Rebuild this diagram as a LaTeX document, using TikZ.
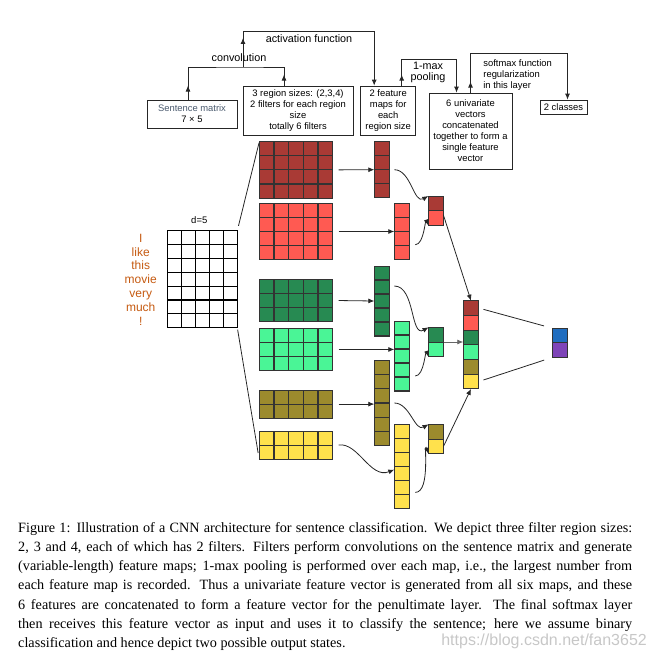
\documentclass[tikz,border=0pt]{standalone}
\usepackage{fontspec}
\setmainfont{Liberation Serif}
\setsansfont{Liberation Sans}
\usepackage{tikz}
\usetikzlibrary{arrows.meta,positioning,calc}
\definecolor{CnnRedDark}{HTML}{A93A35}
\definecolor{CnnRedLight}{HTML}{FF5A52}
\definecolor{CnnGreenDark}{HTML}{278A52}
\definecolor{CnnGreenLight}{HTML}{4AF596}
\definecolor{CnnOlive}{HTML}{9C8B2D}
\definecolor{CnnYellow}{HTML}{FFE14C}
\definecolor{CnnBlue}{HTML}{1F6DBF}
\definecolor{CnnPurple}{HTML}{7E44B8}
\definecolor{CnnSlate}{HTML}{4A5A6E}
\definecolor{CnnWord}{HTML}{C55A11}
\tikzset{
  infobox/.style={draw=black!85,line width=0.8pt,align=center,inner sep=0pt,
    font=\sffamily\fontsize{9.4}{11}\selectfont},
  lbl/.style={inner sep=0pt,align=center,font=\sffamily\fontsize{10.8}{11.5}\selectfont},
  wire/.style={line width=0.8pt,draw=black!85},
  flow/.style={wire,-{Latex[length=6pt,width=5pt]}},
  feed/.style={flow,shorten <=6pt},
  vcell/.style={draw=black!80,line width=0.9pt,inner sep=0pt,outer sep=0pt,
    minimum width=15pt,minimum height=14.7pt},
  cellblock/.style n args={4}{draw=black!80,line width=0.9pt,inner sep=0pt,outer sep=0pt,
    anchor=north west,minimum width=#1*#3,minimum height=#2*#4,
    path picture={
      \foreach \k in {1,...,#1}
        \draw[line width=1.1pt] ($(path picture bounding box.north west)!{\k/#1}!(path picture bounding box.north east)$)
          -- ($(path picture bounding box.south west)!{\k/#1}!(path picture bounding box.south east)$);
      \foreach \k in {1,...,#2}
        \draw[line width=1.1pt] ($(path picture bounding box.north west)!{\k/#2}!(path picture bounding box.south west)$)
          -- ($(path picture bounding box.north east)!{\k/#2}!(path picture bounding box.south east)$);
    }},
  caption/.style={anchor=north west,inner sep=0pt,text width=614pt,align=justify,
    font=\fontsize{14.2}{19.2}\selectfont},
  watermark/.style={inner sep=0pt,anchor=east,text=black!22,font=\sffamily\fontsize{16}{18}\selectfont}
}
\begin{document}
\begin{tikzpicture}[x=1pt,y=-1pt]
  \useasboundingbox (0,0) rectangle (654,661);
  % description boxes
  \node[infobox,minimum width=90pt,minimum height=28pt] (sent) at (192,114) {\textcolor{CnnSlate}{Sentence matrix}\\7 × 5};
  \node[infobox,minimum width=110pt,minimum height=49pt] (region) at (298,110.5) {3 region sizes: (2,3,4)\\2 filters for each region\\size\\totally 6 filters};
  \node[infobox,minimum width=55pt,minimum height=49pt] (fmap) at (388.2,110.5) {2 feature\\maps for\\each\\region size};
  \node[infobox,minimum width=83pt,minimum height=76pt] (univ) at (470.5,131) {6 univariate\\vectors\\concatenated\\together to form a\\single feature\\vector};
  \node[infobox,minimum width=47pt,minimum height=14pt] (classes) at (563.5,107) {2 classes};
  \coordinate (conv) at (243,67);
  \coordinate (act) at (309,31.7);
  \coordinate (pool) at (428,59.3);
  \coordinate (soft) at (519,53.3);
  \draw[wire] ([xshift=-4pt]sent.north) |- (conv) -| ([xshift=-14pt]region.north);
  \draw[flow] ([xshift=-4pt]sent.north) -- ++(0,-14);
  \draw[flow] ([xshift=-14pt]region.north) -- ++(0,-11);
  \draw[flow] (conv) |- (act) -| ([xshift=-14pt]fmap.north);
  \draw[flow] (conv) -- ++(0,-29);
  \draw[flow] ([xshift=13.5pt]fmap.north) |- (pool) -| ([xshift=-14pt]univ.north);
  \draw[flow] ([xshift=13.5pt]fmap.north) -- ++(0,-11);
  \draw[flow] (univ.north) |- (soft) -| ([xshift=4pt]classes.north);
  \draw[flow] (univ.north) -- ++(0,-11);
  \node[lbl] (convlbl) at (239,58) {convolution};
  \node[lbl] (actlbl) at (309,38.3) {activation function};
  \node[lbl] (poollbl) at (428,72.4) {1-max\\pooling};
  \node[infobox,draw=none,align=left,anchor=west] (softlbl) at (483,75) {softmax function\\regularization\\in this layer};
  % sentence matrix
  \node[inner sep=0pt,align=center,text=CnnWord,font=\sffamily\fontsize{12}{13.8}\selectfont] (words) at (140.7,279.5) {I\\like\\this\\movie\\very\\much\\!};
  \node[inner sep=0pt,font=\sffamily\fontsize{9.5}{11}\selectfont] (dim) at (199.3,220) {d=5};
  \node[cellblock={5}{7}{14pt}{13.86pt},fill=white,draw=black,line width=1.2pt] (sm) at (167.3,230.7) {};
  % filters
  \node[cellblock={5}{4}{14.67pt}{14.1pt},fill=CnnRedDark] (f4a) at (259.3,141.7) {};
  \node[cellblock={5}{4}{14.67pt}{14.1pt},fill=CnnRedLight] (f4b) at (259.3,203.3) {};
  \node[cellblock={5}{3}{14.67pt}{14.1pt},fill=CnnGreenDark] (f3a) at (259.3,279.3) {};
  \node[cellblock={5}{3}{14.67pt}{14.1pt},fill=CnnGreenLight] (f3b) at (259.3,328.3) {};
  \node[cellblock={5}{2}{14.67pt}{14.1pt},fill=CnnOlive] (f2a) at (259.3,390) {};
  \node[cellblock={5}{2}{14.67pt}{14.1pt},fill=CnnYellow] (f2b) at (259.3,431.7) {};
  \draw[wire,shorten <=5pt,shorten >=1pt] (sm.north east) -- (f4a.north west);
  \draw[wire,shorten <=2pt,shorten >=7pt] (sm.south east) -- (f2b.south west);
  % feature maps
  \node[cellblock={1}{4}{15pt}{14pt},fill=CnnRedDark] (m4a) at (374.3,141.7) {};
  \node[cellblock={1}{4}{15pt}{14.1pt},fill=CnnRedLight] (m4b) at (394.3,203.3) {};
  \node[cellblock={1}{5}{15pt}{14pt},fill=CnnGreenDark] (m3a) at (374.3,266) {};
  \node[cellblock={1}{5}{15pt}{14pt},fill=CnnGreenLight] (m3b) at (394.3,321) {};
  \node[cellblock={1}{6}{15pt}{14.1pt},fill=CnnOlive] (m2a) at (374.3,360.7) {};
  \node[cellblock={1}{6}{15pt}{14.1pt},fill=CnnYellow] (m2b) at (394.3,424.3) {};
  \draw[feed] (f4a.east) -- (m4a.west);
  \draw[feed] (f4b.east) -- (m4b.west);
  \draw[feed] (f3a.east) -- (m3a.west);
  \draw[feed] (f3b.east) -- (f3b.east -| m3b.west);
  \draw[feed] (f2a.east) -- (f2a.east -| m2a.west);
  \draw[feed] (f2b.east) to[out=8,in=-158] ([yshift=-3pt]m2b.west);
  % 1-max pooling
  \node[vcell,fill=CnnRedDark,anchor=north west] (p4a) at (428.3,196) {};
  \node[vcell,fill=CnnRedLight,below=0pt of p4a] (p4b) {};
  \node[vcell,fill=CnnGreenDark,anchor=north west] (p3a) at (428.5,327.3) {};
  \node[vcell,fill=CnnGreenLight,below=0pt of p3a] (p3b) {};
  \node[vcell,fill=CnnOlive,anchor=north west] (p2a) at (428.5,424.3) {};
  \node[vcell,fill=CnnYellow,below=0pt of p2a] (p2b) {};
  \draw[flow] ([xshift=5pt]m4a.east) to[out=0,in=-150] (p4a.north west);
  \draw[flow] ([xshift=6pt,yshift=15pt]m4b.south east) to[out=0,in=110] (p4b.south west);
  \draw[flow] ([xshift=5pt,yshift=15pt]m3a.east) to[out=0,in=-150] (p3a.north west);
  \draw[flow] ([xshift=6pt,yshift=15pt]m3b.south east) to[out=0,in=110] (p3b.south west);
  \draw[flow] ([xshift=5pt]m2a.east) to[out=0,in=-150] (p2a.north west);
  \draw[flow] ([xshift=6pt,yshift=16.5pt]m2b.south east) to[out=0,in=110] (p2b.south west);
  % concatenated vector
  \node[vcell,fill=CnnRedDark,anchor=north west,minimum width=15.4pt] (c1) at (463.3,300.7) {};
  \node[vcell,fill=CnnRedLight,minimum width=15.4pt,below=0pt of c1] (c2) {};
  \node[vcell,fill=CnnGreenDark,minimum width=15.4pt,below=0pt of c2] (c3) {};
  \node[vcell,fill=CnnGreenLight,minimum width=15.4pt,below=0pt of c3] (c4) {};
  \node[vcell,fill=CnnOlive,minimum width=15.4pt,below=0pt of c4] (c5) {};
  \node[vcell,fill=CnnYellow,minimum width=15.4pt,below=0pt of c5] (c6) {};
  \draw[flow] ([yshift=-4pt]p4b.north east) -- (c1.north);
  \draw[flow,draw=black!60] (p3a.south east) -- (p3a.south east -| c1.west);
  \draw[flow] (p2b.east) -- (c6.south);
  % output
  \node[vcell,fill=CnnBlue,anchor=north west,minimum width=14.6pt,minimum height=14.5pt] (o1) at (552.7,328.3) {};
  \node[vcell,fill=CnnPurple,minimum width=14.6pt,minimum height=14.5pt,below=0pt of o1] (o2) {};
  \draw[wire,shorten <=5pt,shorten >=9pt] (c1.east) -- (o1.north west);
  \draw[wire,shorten <=5pt,shorten >=9pt] (c6.east) -- (o2.south west);
  % caption
  \node[caption] (cap) at (18,522) {Figure 1: Illustration of a CNN architecture for sentence classification. We depict three filter region sizes:\linebreak
    2, 3 and 4, each of which has 2 filters. Filters perform convolutions on the sentence matrix and generate\linebreak
    (variable-length) feature maps; 1-max pooling is performed over each map, i.e.,\ the largest number from\linebreak
    each feature map is recorded. Thus a univariate feature vector is generated from all six maps, and these\linebreak
    6 features are concatenated to form a feature vector for the penultimate layer. The final softmax layer\linebreak
    then receives this feature vector as input and uses it to classify the sentence; here we assume binary\linebreak
    classification and hence depict two possible output states.};
  \node[watermark] (mark) at (647,641) {https://blog.csdn.net/fan3652};
\end{tikzpicture}
\end{document}
